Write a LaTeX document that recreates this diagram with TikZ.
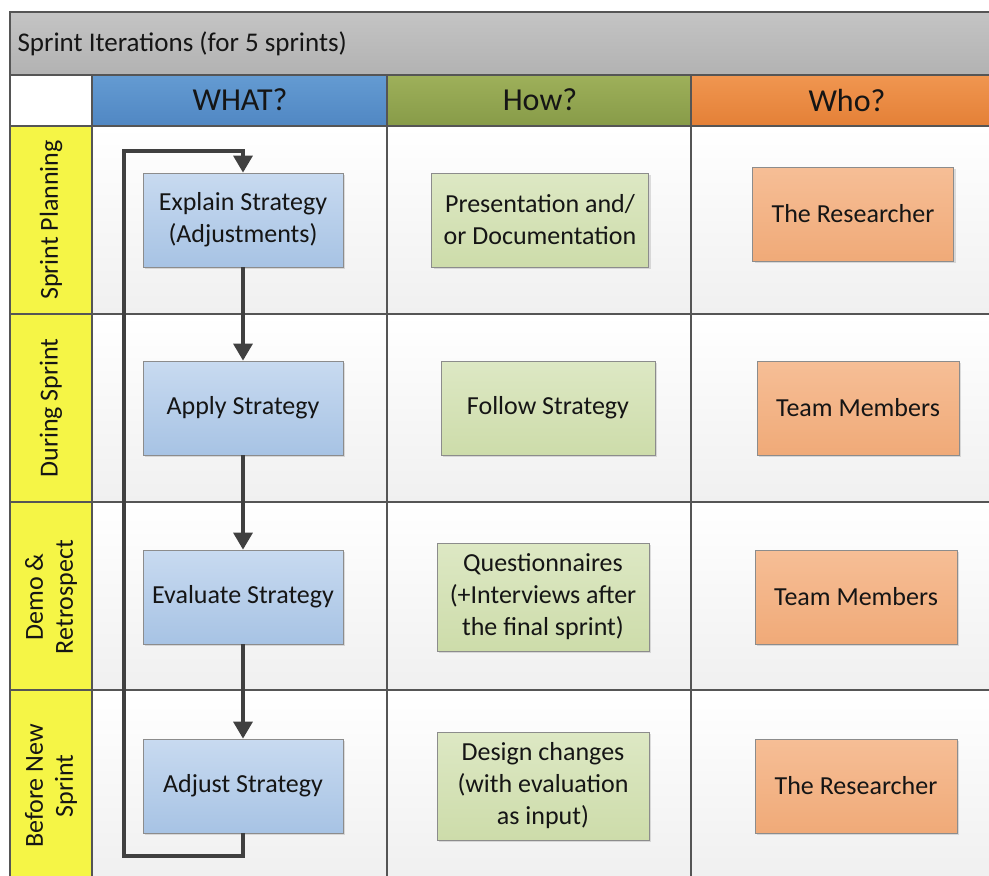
\documentclass[tikz,border=0pt]{standalone}
\usepackage{fontspec}
\setmainfont{Carlito}
\usetikzlibrary{arrows.meta,shadows}
\definecolor{gridc}{HTML}{555555}
\definecolor{arrc}{HTML}{404040}
\definecolor{txt}{HTML}{151515}
\definecolor{titleT}{HTML}{C4C4C4}
\definecolor{titleB}{HTML}{B2B2B2}
\definecolor{whatT}{HTML}{649BD2}
\definecolor{whatB}{HTML}{5087C3}
\definecolor{howT}{HTML}{9EB05A}
\definecolor{howB}{HTML}{879B48}
\definecolor{whoT}{HTML}{F09650}
\definecolor{whoB}{HTML}{E48037}
\definecolor{laneY}{HTML}{F5F546}
\definecolor{cellB}{HTML}{F0F0F0}
\definecolor{blueT}{HTML}{C8DAF0}
\definecolor{blueB}{HTML}{A7C3E4}
\definecolor{greenT}{HTML}{DDE8C4}
\definecolor{greenB}{HTML}{CDDCAA}
\definecolor{orangeT}{HTML}{F6BE96}
\definecolor{orangeB}{HTML}{F0AA78}
\tikzset{
  box/.style={draw=black!45, line width=0.8pt, minimum width=200pt, minimum height=94pt,
    align=center, font=\fontsize{26}{32}\selectfont, text=txt, inner sep=2pt,
    drop shadow={shadow xshift=2pt, shadow yshift=-2pt, opacity=0.25}},
  bluebox/.style={box, top color=blueT, bottom color=blueB},
  greenbox/.style={box, top color=greenT, bottom color=greenB},
  orangebox/.style={box, top color=orangeT, bottom color=orangeB},
  hdr/.style={font=\fontsize{32}{36}\selectfont, text=txt},
  lane/.style={rotate=90, align=center, font=\fontsize{26}{30}\selectfont, text=txt},
  flow/.style={draw=arrc, line width=3.4pt},
  arr/.style={flow, -{Triangle[width=19pt,length=17pt]}},
  gridline/.style={draw=gridc, line width=1.3pt}
}
\begin{document}
\begin{tikzpicture}[x=1pt,y=-1pt]
\useasboundingbox (0,0) rectangle (989,876);
\fill[white] (0,0) rectangle (989,876);
% title band
\shade[top color=titleT, bottom color=titleB] (10,12) rectangle (989,75);
\node[anchor=west, font=\fontsize{27}{30}\selectfont, text=txt] (title) at (14,44) {Sprint Iterations (for 5 sprints)};
% header row
\fill[white] (10,75) rectangle (92,126);
\shade[top color=whatT, bottom color=whatB] (92,75) rectangle (387,126);
\shade[top color=howT, bottom color=howB] (387,75) rectangle (691,126);
\shade[top color=whoT, bottom color=whoB] (691,75) rectangle (989,126);
\node[hdr] (hwhat) at (240,100) {WHAT?};
\node[hdr] (hhow) at (540,100) {How?};
\node[hdr] (hwho) at (847,100) {Who?};
% lane column
\fill[laneY] (10,126) rectangle (92,876);
% content cells
\foreach \ya/\yb in {126/314,314/502,502/690,690/876}{
  \shade[top color=white, bottom color=cellB] (92,\ya) rectangle (989,\yb);
}
% grid lines
\draw[gridline] (10,876) -- (10,12) -- (989,12);
\draw[gridline] (10,75) -- (989,75);
\draw[gridline] (10,126) -- (989,126);
\foreach \y in {314,502,690}{\draw[gridline] (10,\y) -- (989,\y);}
\foreach \x in {92,387,691}{\draw[gridline] (\x,75) -- (\x,876);}
% lane labels
\node[lane] (l1) at (51,220) {Sprint Planning};
\node[lane] (l2) at (51,408) {During Sprint};
\node[lane] (l3) at (51,597) {Demo \&\\Retrospect};
\node[lane] (l4) at (51,786) {Before New\\Sprint};
% WHAT boxes
\node[bluebox] (explain) at (243,220) {Explain Strategy\\(Adjustments)};
\node[bluebox] (apply) at (243,408) {Apply Strategy};
\node[bluebox] (evaluate) at (243,597) {Evaluate Strategy};
\node[bluebox] (adjust) at (243,786) {Adjust Strategy};
% HOW boxes
\node[greenbox, minimum width=217pt] (present) at (540,220) {Presentation and/\\or Documentation};
\node[greenbox, minimum width=214pt] (follow) at (548,408) {Follow Strategy};
\node[greenbox, minimum width=212pt, minimum height=108pt] (quest) at (543,597) {Questionnaires\\(+Interviews after\\the final sprint)};
\node[greenbox, minimum width=212pt, minimum height=108pt] (design) at (543,786) {Design changes\\(with evaluation\\as input)};
% WHO boxes
\node[orangebox, minimum width=201pt] (res1) at (853,214) {The Researcher};
\node[orangebox, minimum width=202pt] (team1) at (858,408) {Team Members};
\node[orangebox, minimum width=202pt] (team2) at (856,597) {Team Members};
\node[orangebox, minimum width=202pt] (res2) at (856,786) {The Researcher};
% flow arrows
\draw[arr] (explain) -- (apply);
\draw[arr] (apply) -- (evaluate);
\draw[arr] (evaluate) -- (adjust);
\coordinate (c1) at (243,856);
\coordinate (c2) at (124,856);
\coordinate (c3) at (124,151);
\coordinate (c4) at (243,151);
\draw[arr, line join=miter] (adjust.south) -- (c1) -- (c2) -- (c3) -- (c4) -- (explain.north);
\end{tikzpicture}
\end{document}
